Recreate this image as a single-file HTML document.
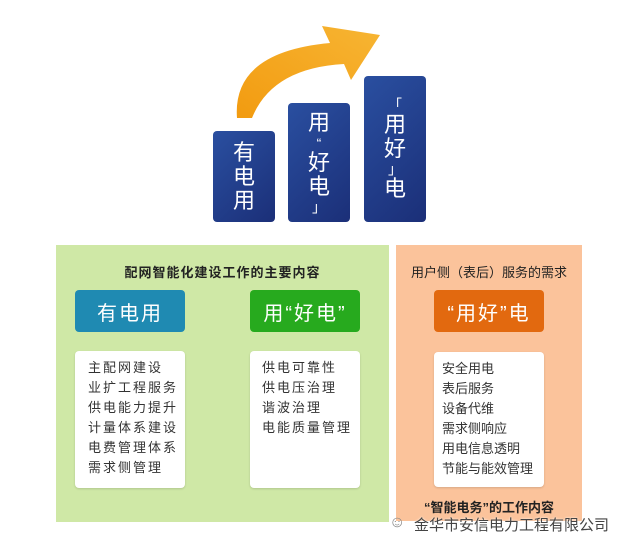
<!DOCTYPE html>
<html><head><meta charset="utf-8"><style>
*{margin:0;padding:0;box-sizing:border-box}
body{width:632px;height:554px;background:#fff;position:relative;overflow:hidden;font-family:"Liberation Sans","Noto Sans CJK SC",sans-serif;color:#333}
.a{position:absolute}
.bar{position:absolute;background:linear-gradient(135deg,#2a4fa0,#1b2f78);border-radius:4px;color:#fff;font-size:22px;line-height:24px;text-align:center;display:flex;flex-direction:column;justify-content:center;align-items:center}
.hd{position:absolute;border-radius:4px;color:#fff;font-size:20px;display:flex;align-items:center;justify-content:center;letter-spacing:2px}
.wb{position:absolute;background:#fff;border-radius:4px;box-shadow:0 1px 2px rgba(0,0,0,.15);font-size:13px;line-height:20px;padding-top:7px;color:#333}
.t{position:absolute;font-size:13px;color:#222;white-space:nowrap}
</style></head><body>
<svg class="a" style="left:0;top:0" width="632" height="240">
<defs><linearGradient id="g" x1="0" y1="1" x2="1" y2="0"><stop offset="0" stop-color="#f29b10"/><stop offset="1" stop-color="#f7b533"/></linearGradient></defs>
<path d="M237,118 Q232,52 330,43 L322,26 L380,35 L351,80 L344,64 Q272,68 252,118 Z" fill="url(#g)"/>
</svg>
<div class="bar" style="left:213px;top:131px;width:62px;height:91px">有<br>电<br>用</div>
<div class="bar" style="left:288px;top:103px;width:62px;height:119px">用<br><span style="font-size:14px;line-height:16px">“</span>好<br>电<br><span style="font-size:14px;line-height:16px">」</span></div>
<div class="bar" style="left:364px;top:76px;width:62px;height:146px"><span style="font-size:14px;line-height:16px">「</span>用<br>好<br><span style="font-size:14px;line-height:16px">」</span>电</div>

<div class="a" style="left:56px;top:245px;width:333px;height:277px;background:#cfe8a6"></div>
<div class="a" style="left:396px;top:245px;width:186px;height:276px;background:#fbc39b"></div>

<div class="t" style="left:56px;width:333px;text-align:center;top:262px;letter-spacing:1px;font-weight:bold">配网智能化建设工作的主要内容</div>
<div class="t" style="left:396px;width:186px;text-align:center;top:262px">用户侧（表后）服务的需求</div>

<div class="hd" style="left:75px;top:290px;width:110px;height:42px;background:#1f8ab2">有电用</div>
<div class="hd" style="left:250px;top:290px;width:110px;height:42px;background:#27aa1e">用“好电”</div>
<div class="hd" style="left:434px;top:290px;width:110px;height:42px;background:#e2690f">“用好”电</div>

<div class="wb" style="left:75px;top:351px;width:110px;height:137px;padding-left:13px;letter-spacing:2px">主配网建设<br>业扩工程服务<br>供电能力提升<br>计量体系建设<br>电费管理体系<br>需求侧管理</div>
<div class="wb" style="left:250px;top:351px;width:110px;height:137px;padding-left:12px;letter-spacing:2px">供电可靠性<br>供电压治理<br>谐波治理<br>电能质量管理</div>
<div class="wb" style="left:434px;top:352px;width:110px;height:135px;padding-left:8px">安全用电<br>表后服务<br>设备代维<br>需求侧响应<br>用电信息透明<br>节能与能效管理</div>

<div class="t" style="left:396px;width:186px;text-align:center;top:497px;font-weight:bold">“智能电务”的工作内容</div>
<div class="t" style="left:389px;top:514px;font-size:16px;color:#888">☺</div>
<div class="t" style="left:414px;top:514px;font-size:15px;color:#444;text-shadow:0 0 2px #fff">金华市安信电力工程有限公司</div>
</body></html>
